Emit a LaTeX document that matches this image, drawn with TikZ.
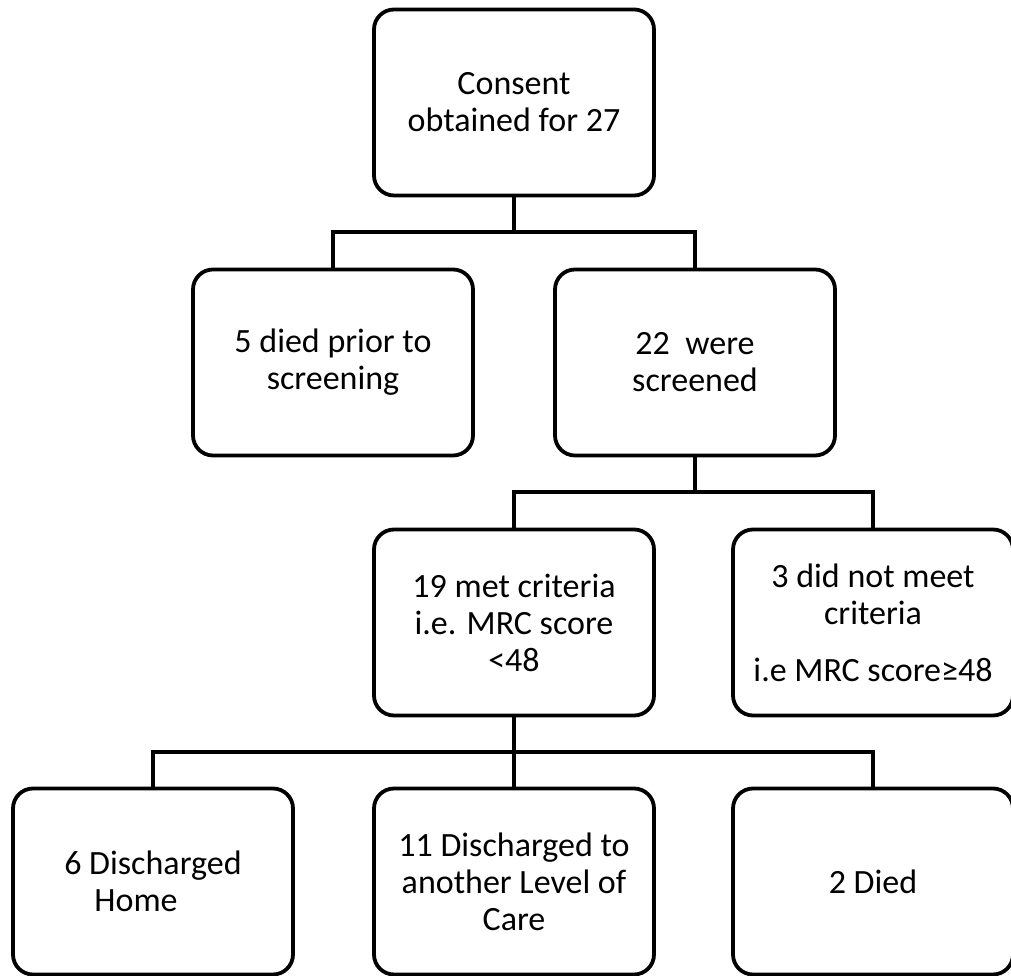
\documentclass[tikz,border=0pt]{standalone}
\usepackage{fontspec}
\setmainfont{Carlito}

\begin{document}
\begin{tikzpicture}[x=1pt,y=1pt,
        box/.style={draw,line width=3.8pt,rounded corners=20pt,
            minimum width=280pt,minimum height=186pt,inner sep=0pt,
            align=center,font=\fontsize{34}{37}\selectfont},
        link/.style={line width=3.8pt}]
        \useasboundingbox (0,0) rectangle (1011,976);

        % boxes
        \node[box] (consent) at (514,873.5) {Consent\\obtained for 27};

        \node[box] (died5) at (333,613.5) {5 died prior to\\screening};
        \node[box] (screened) at (695,613.5) {22\ \ were\\screened};

        \node[box] (met) at (514,353.5) {19 met criteria\\i.e. MRC score\\<48};
        \node[box] (notmet) at (873,353.5)
            {3 did not meet\\criteria\\[20pt]i.e MRC score≥48};

        \node[box] (home) at (153,94.5) {6 Discharged\\Home\hspace*{34pt}};
        \node[box] (care) at (514,94.5)
            {11 Discharged to\\another Level of\\Care};
        \node[box] (died2) at (873,94.5) {2 Died};

        % connectors
        \draw[link] (consent.south) -- ++(0,-35) coordinate (j1);
        \draw[link] (died5.north) |- (j1) -| (screened.north);

        \draw[link] (screened.south) -- ++(0,-35) coordinate (j2);
        \draw[link] (met.north) |- (j2) -| (notmet.north);

        \draw[link] (met.south) -- (care.north);
        \path (met.south) -- ++(0,-35) coordinate (j3);
        \draw[link] (home.north) |- (j3) -| (died2.north);
    \end{tikzpicture}
\end{document}
